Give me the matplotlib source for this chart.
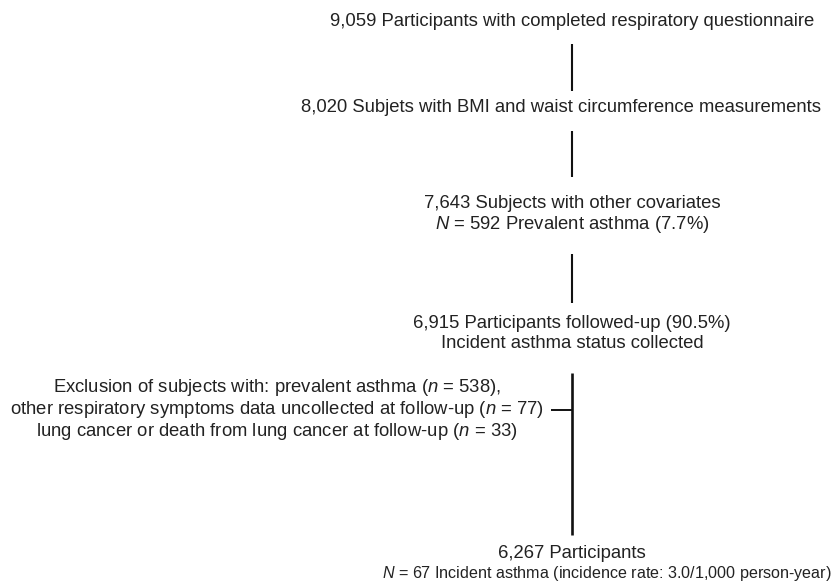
import matplotlib
matplotlib.use("Agg")
import matplotlib.pyplot as plt
from matplotlib import font_manager

plt.rcParams['font.family'] = ['Liberation Sans', 'DejaVu Sans']
plt.rcParams['mathtext.fontset'] = 'custom'
plt.rcParams['mathtext.rm'] = 'Liberation Sans'
plt.rcParams['mathtext.it'] = 'Liberation Sans:italic'

# Data
stage_counts = ["9,059", "8,020", "7,643", "6,915", "6,267"]
stage_labels = [
    ["{} Participants with completed respiratory questionnaire"],
    ["{} Subjets with BMI and waist circumference measurements"],
    ["{} Subjects with other covariates", "$N$ = 592 Prevalent asthma (7.7%)"],
    ["{} Participants followed-up (90.5%)", "Incident asthma status collected"],
    ["{} Participants", "$N$ = 67 Incident asthma (incidence rate: 3.0/1,000 person-year)"],
]
exclusion_lines = [
    "Exclusion of subjects with: prevalent asthma ($n$ = 538),",
    "other respiratory symptoms data uncollected at follow-up ($n$ = 77)",
    "lung cancer or death from lung cancer at follow-up ($n$ = 33)",
]

names = {f.name for f in font_manager.fontManager.ttflist}
narrow_ok = 'Liberation Sans Narrow' in names

W, H = 833, 585
fig = plt.figure(figsize=(W / 100, H / 100), dpi=100)
ax = fig.add_axes([0, 0, 1, 1])
ax.set_xlim(0, W)
ax.set_ylim(H, 0)
ax.axis('off')

cx = 572
fs = 13.3
tc = '#222222'
lh = 20.5

stage_y = [22, 108, 204, 323, 553]
stage_x = [cx, 561, cx, cx, cx]
for i, (cnt, lines) in enumerate(zip(stage_counts, stage_labels)):
    for j, ln in enumerate(lines):
        txt = ln.format(cnt) if j == 0 else ln
        x = stage_x[i]
        kw = dict(fontsize=fs)
        if i == 4 and j == 1:
            x = 607
            if narrow_ok:
                txt = txt.replace("$N$", "N")
                ax.text(x, stage_y[i] + j * lh, txt, ha='center', va='center',
                        fontsize=14.2, color=tc,
                        family=['Liberation Sans Narrow', 'Liberation Sans'])
                continue
            kw = dict(fontsize=11.6)
        ax.text(x, stage_y[i] + j * lh, txt, ha='center', va='center',
                color=tc, **kw)

# connectors
segs = [(44, 91), (131, 177), (254, 303), (373, 535)]
for k, (y0, y1) in enumerate(segs):
    ax.plot([cx, cx], [y0, y1], color='#111111', lw=1.5 if k < 3 else 1.9,
            solid_capstyle='butt')

# exclusion branch
ex_y = 410
ax.plot([551, cx], [ex_y, ex_y], color='#111111', lw=1.4, solid_capstyle='butt')
for k, ln in enumerate(exclusion_lines):
    ax.text(277, 388 + k * 22, ln, ha='center', va='center', fontsize=fs, color=tc)

fig.savefig('out.png', dpi=100)
